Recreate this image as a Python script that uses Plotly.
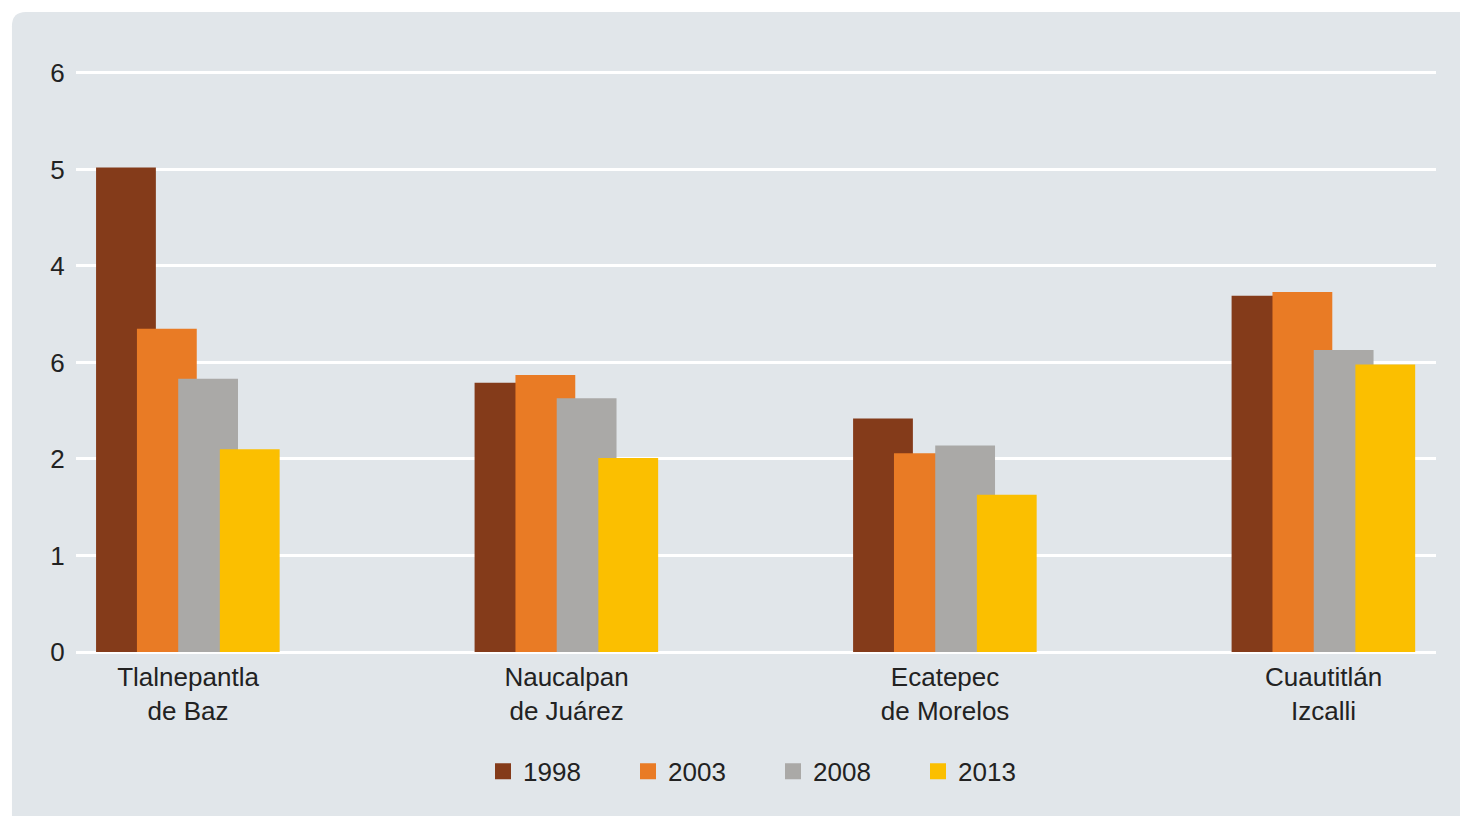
import plotly.graph_objects as go

categories = ["Tlalnepantla<br>de Baz", "Naucalpan<br>de Juárez", "Ecatepec<br>de Morelos", "Cuautitlán<br>Izcalli"]
years = ["1998", "2003", "2008", "2013"]
values = {
    "1998": [5.02, 2.79, 2.42, 3.69],
    "2003": [3.35, 2.87, 2.06, 3.73],
    "2008": [2.83, 2.63, 2.14, 3.13],
    "2013": [2.10, 2.01, 1.63, 2.98],
}
colors = {"1998": "#843b1a", "2003": "#e97b25", "2008": "#aaa9a7", "2013": "#fbbf00"}
ytick_vals = [0, 1, 2, 3, 4, 5, 6]
ytick_text = ["0", "1", "2", "6", "4", "5", "6"]

FONT = "Liberation Sans"
BG = "#e1e6ea"
TXT = "#222222"

x_idx = list(range(len(categories)))
bar_w = 0.158
offsets = [-0.243, -0.135, -0.026, 0.084]

fig = go.Figure()
for yr, off in zip(years, offsets):
    fig.add_trace(go.Bar(
        x=x_idx, y=values[yr], name=yr,
        width=bar_w, offset=off, showlegend=False,
        marker=dict(color=colors[yr], line=dict(width=0)),
    ))
# legend entries with larger square swatches
for yr in years:
    fig.add_trace(go.Scatter(
        x=[None], y=[None], mode="markers", name=yr,
        marker=dict(symbol="square", size=16, color=colors[yr]),
    ))

fig.update_layout(
    width=1468, height=816,
    barmode="overlay",
    paper_bgcolor="white",
    plot_bgcolor=BG,
    margin=dict(l=68, r=40, t=63, b=172, autoexpand=False),
    font=dict(family=FONT, size=26, color=TXT),
    showlegend=True,
    legend=dict(
        orientation="h", x=0.5125, xanchor="center", y=-0.165, yanchor="top",
        font=dict(family=FONT, size=26, color=TXT),
        bgcolor="rgba(0,0,0,0)",
        entrywidth=100, entrywidthmode="pixels",
        itemclick=False, itemdoubleclick=False,
    ),
    xaxis=dict(
        tickmode="array", tickvals=x_idx, ticktext=categories,
        range=[-0.296, 3.297], showgrid=False, zeroline=False,
        showline=False, ticks="outside", ticklen=2, tickcolor="rgba(0,0,0,0)",
        tickfont=dict(size=26, color=TXT),
        fixedrange=True,
    ),
    yaxis=dict(
        tickmode="array", tickvals=ytick_vals, ticktext=ytick_text,
        range=[0, 6.02], showgrid=True, gridcolor="white", gridwidth=3,
        zeroline=True, zerolinecolor="white", zerolinewidth=3,
        showline=False, ticks="outside", ticklen=5, tickcolor="rgba(0,0,0,0)",
        tickfont=dict(size=26, color=TXT), fixedrange=True,
    ),
    shapes=[dict(
        type="path", xref="paper", yref="paper", layer="below",
        path=("M -0.0471,-0.4 L -0.0471,1.077 Q -0.0471,1.1015 -0.0368,1.1015 "
              "L 1.1,1.1015 L 1.1,-0.4 Z"),
        fillcolor=BG, line=dict(width=0),
    )],
)

fig.write_html("out.html")
